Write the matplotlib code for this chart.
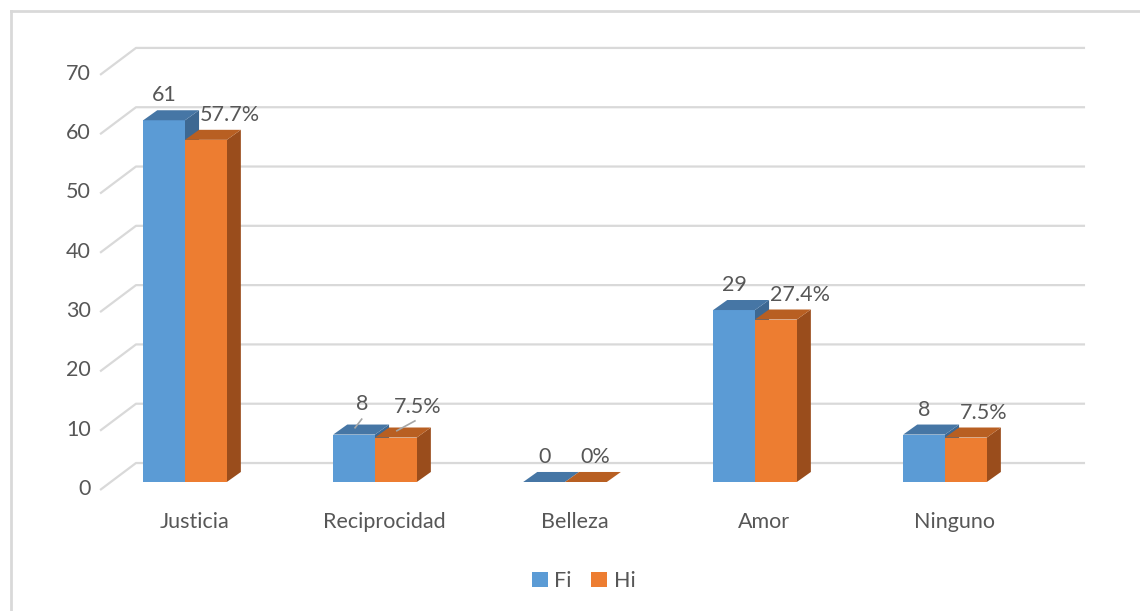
import matplotlib
matplotlib.use("Agg")
import matplotlib.pyplot as plt
from matplotlib.patches import Polygon, Patch
from matplotlib.lines import Line2D

categories = ["Justicia", "Reciprocidad", "Belleza", "Amor", "Ninguno"]
fi_values = [61, 8, 0, 29, 8]
hi_values = [57.7, 7.5, 0, 27.4, 7.5]
hi_labels = ["57.7%", "7.5%", "0%", "27.4%", "7.5%"]
y_ticks = [0, 10, 20, 30, 40, 50, 60, 70]
series_names = ["Fi", "Hi"]

plt.rcParams['font.family'] = ['Lato', 'DejaVu Sans']
TXT = "#575757"
GRID = "#d9d9d9"
BLUE = ("#5b9bd5", "#4676a5", "#3d6892")
ORANGE = ("#ed7d31", "#b85f22", "#9a4d1c")
FS = 15.5

fig = plt.figure(figsize=(11.4, 6.11), dpi=100)
ax = fig.add_axes([0, 0, 1, 1])
# data <-> pixel mapping: category i at 185 + 190*i px, value v at 482 - 5.93*v px (from top)
ax.set_xlim((0 - 185) / 190, (1140 - 185) / 190)
ax.set_ylim((482 - 611) / 5.93, 482 / 5.93)
ax.axis("off")

# 3D geometry (in data units)
bw = 0.22            # bar width
ddx, ddy = 0.074, 1.69   # bar depth offset
back_dy = 3.2
front_dy = -1.35
xl_front, xl_back, xr_back = -0.447, -0.258, 4.737

# back-wall gridlines with left depth segment
for v in y_ticks:
    ax.plot([xl_front, xl_back, xr_back], [v + front_dy, v + back_dy, v + back_dy],
            color=GRID, lw=1.6, solid_capstyle="butt", zorder=1)
    ax.text(xl_front - 0.05, v + front_dy + 0.2, str(v), ha="right", va="center",
            fontsize=FS, color=TXT)


def bar3d(x0, h, cols, z):
    x1 = x0 + bw
    front, top, side = cols
    ax.add_patch(Polygon([(x1, 0), (x1, h), (x1 + ddx, h + ddy), (x1 + ddx, ddy)],
                         closed=True, facecolor=side, edgecolor="none", zorder=z))
    if h > 0:
        ax.bar(x0, h, width=bw, align="edge", color=front, edgecolor="none", zorder=z + 0.1)
    ax.add_patch(Polygon([(x0, h), (x1, h), (x1 + ddx, h + ddy), (x0 + ddx, h + ddy)],
                         closed=True, facecolor=top, edgecolor="none", zorder=z + 0.2))


for i, cat in enumerate(categories):
    bar3d(i - bw, fi_values[i], BLUE, 2 + i)
    bar3d(i, hi_values[i], ORANGE, 2.5 + i)
    lift = 4.2
    extra = 1.0 if cat == "Reciprocidad" else 0.0
    bx = i - bw / 2 + (0.04 if extra else 0)
    ox = i + 0.08 + (0.02 if extra else 0)
    ax.text(bx, fi_values[i] + lift + extra, str(fi_values[i]), ha="center", va="center",
            fontsize=FS, color=TXT, zorder=20)
    ax.text(ox, hi_values[i] + lift + extra, hi_labels[i], ha="left", va="center",
            fontsize=FS, color=TXT, zorder=20)
    if extra:
        ax.plot([i - bw / 2 + 0.005, bx], [fi_values[i] + ddy * 0.5 + 0.3, fi_values[i] + 2.6],
                color="#a6a6a6", lw=1.2, zorder=20)
        ax.plot([i + bw / 2 + 0.005, i + 0.21], [hi_values[i] + ddy * 0.5 + 0.3, hi_values[i] + 2.8],
                color="#a6a6a6", lw=1.2, zorder=20)
    ax.text(i + 0.05, -6.75, cat, ha="center", va="center", fontsize=FS, color=TXT)

handles = [Patch(facecolor=BLUE[0], edgecolor="none"), Patch(facecolor=ORANGE[0], edgecolor="none")]
fig.legend(handles, series_names, loc="center", bbox_to_anchor=(0.512, 0.049), ncol=2,
           frameon=False, fontsize=FS, labelcolor=TXT, handlelength=0.75, handleheight=0.75,
           handletextpad=0.3, columnspacing=0.9)

# chart border (top and left visible)
fig.add_artist(Line2D([11 / 1140, 11 / 1140], [0, 1 - 11 / 611], transform=fig.transFigure,
                      color="#d9d9d9", lw=2))
fig.add_artist(Line2D([11 / 1140, 1], [1 - 11 / 611, 1 - 11 / 611], transform=fig.transFigure,
                      color="#d9d9d9", lw=2))

fig.savefig("out.png", dpi=100, facecolor="white")
